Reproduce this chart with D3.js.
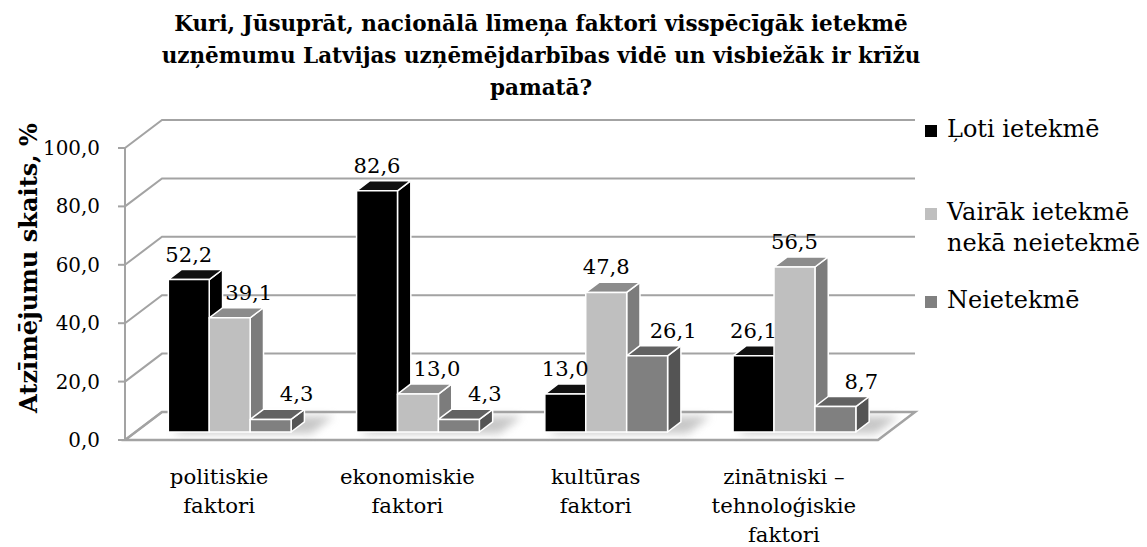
<!DOCTYPE html>
<html>
<head>
<meta charset="utf-8">
<script src="https://cdn.jsdelivr.net/npm/d3@7"></script>
<style>
  body { margin: 0; background: #fff; }
  svg { display: block; font-family: 'DejaVu Serif', serif; }
  .tick-label { font-size: 21px; fill: #000; }
  .cat-label { font-size: 22px; fill: #000; }
  .value-label { font-size: 21px; fill: #000; }
  .legend-label { font-size: 23.5px; fill: #000; }
  .title { font-size: 21.5px; font-weight: bold; fill: #000; }
  .axis-title { font-size: 23.5px; font-weight: bold; fill: #000; }
</style>
</head>
<body>
<svg width="1147" height="547"></svg>
<script>
const TITLE_LINES = [
  'Kuri, Jūsuprāt, nacionālā līmeņa faktori visspēcīgāk ietekmē',
  'uzņēmumu Latvijas uzņēmējdarbības vidē un visbiežāk ir krīžu',
  'pamatā?'
]
const Y_TITLE = 'Atzīmējumu skaits, %'

const categories = [
  ['politiskie', 'faktori'],
  ['ekonomiskie', 'faktori'],
  ['kultūras', 'faktori'],
  ['zinātniski –', 'tehnoloģiskie', 'faktori']
]
const seriesNames = [['Ļoti ietekmē'], ['Vairāk ietekmē', 'nekā neietekmē'], ['Neietekmē']]
const lotiIetekme = [52.2, 82.6, 13.0, 26.1]
const vairakIetekme = [39.1, 13.0, 47.8, 56.5]
const neietekme = [4.3, 4.3, 26.1, 8.7]
const yTicks = [0, 20, 40, 60, 80, 100]

const M = {
  left: 125, right: 878, top: 148, bottom: 440,
  depthX: 37, depthY: -28,      // offset of the back wall
  barZ0: 0.286, barZ1: 0.646    // bar front / back depth
}

// front, top, side colours per series
const FACES = [
  { front: '#000000', top: '#111111', side: '#000000' },
  { front: '#bfbfbf', top: '#8c8c8c', side: '#7c7c7c' },
  { front: '#808080', top: '#626262', side: '#545454' }
]
const GRID = '#a3a3a3'

const seriesValues = [lotiIetekme, vairakIetekme, neietekme]
const fmt = v => d3.format('.1f')(v).replace('.', ',')
const svg = d3.select('svg')

// the original used Cambria; size the substitute font so sample strings take the same width
function fitFont(cls, sample, targetWidth) {
  const t = svg.append('text').attr('class', cls).text(sample)
  const w = t.node().getComputedTextLength()
  const size = parseFloat(getComputedStyle(t.node()).fontSize)
  t.remove()
  svg.selectAll('.' + cls).style('font-size', (size * targetWidth / w) + 'px')
}

const x = d3.scaleBand()
  .domain(d3.range(categories.length))
  .range([M.left, M.right])

const xInner = d3.scaleBand()
  .domain(d3.range(seriesValues.length))
  .range([0, x.bandwidth()])
  .paddingOuter(0.8)

const y = d3.scaleLinear()
  .domain([0, 100])
  .range([M.bottom, M.top])

// projection of a point (sx on the front plane, value, depth z in 0..1)
function proj(sx, v, z) {
  return [sx + z * M.depthX, y(v) + z * M.depthY]
}
function poly(pts) { return pts.map(p => p.join(',')).join(' ') }

const defs = svg.append('defs')
defs.append('filter').attr('id', 'blur')
  .attr('x', '-50%').attr('y', '-50%').attr('width', '200%').attr('height', '200%')
  .append('feGaussianBlur').attr('stdDeviation', 4)

// floor
svg.append('polygon')
  .attr('points', poly([proj(M.left, 0, 0), proj(M.right, 0, 0), proj(M.right, 0, 1), proj(M.left, 0, 1)]))
  .attr('fill', '#fff')
  .attr('stroke', GRID)
  .attr('stroke-width', 2.5)

// gridlines: side wall diagonal + back wall
svg.append('g').selectAll('path')
  .data(yTicks)
  .enter()
  .append('path')
  .attr('d', v => {
    const a = proj(M.left, v, 0), b = proj(M.left, v, 1), c = proj(M.right, v, 1)
    return `M${a}L${b}L${c}`
  })
  .attr('fill', 'none')
  .attr('stroke', GRID)
  .attr('stroke-width', 2)

// y axis
svg.append('line')
  .attr('x1', M.left).attr('x2', M.left)
  .attr('y1', y(100)).attr('y2', y(0))
  .attr('stroke', GRID).attr('stroke-width', 2)

svg.append('g').selectAll('line')
  .data(yTicks)
  .enter()
  .append('line')
  .attr('x1', M.left - 7).attr('x2', M.left)
  .attr('y1', d => y(d)).attr('y2', d => y(d))
  .attr('stroke', GRID).attr('stroke-width', 2)

svg.append('g').selectAll('text')
  .data(yTicks)
  .enter()
  .append('text')
  .attr('class', 'tick-label')
  .attr('x', M.left - 25)
  .attr('y', d => y(d))
  .attr('dy', '0.35em')
  .attr('text-anchor', 'end')
  .text(fmt)

// floor shadows under the bar groups
svg.append('g').selectAll('polygon')
  .data(categories)
  .enter()
  .append('polygon')
  .attr('points', (d, i) => {
    const l = x(i) + xInner(0) + 6
    const r = x(i) + xInner(2) + xInner.bandwidth() + 22
    return poly([proj(l, 0, M.barZ0 - 0.05), proj(r, 0, M.barZ0 - 0.05), proj(r, 0, M.barZ1 + 0.2), proj(l, 0, M.barZ1 + 0.2)])
  })
  .attr('fill', '#9a9a9a')
  .attr('opacity', 0.55)
  .attr('filter', 'url(#blur)')

// bars, drawn left to right so that each front face hides the previous side face
const bars = []
categories.forEach((c, i) => {
  seriesValues.forEach((vals, s) => {
    bars.push({ cat: i, s, v: vals[i] })
  })
})

const barG = svg.append('g')
bars.forEach(b => {
  const x0 = x(b.cat) + xInner(b.s)
  const x1 = x0 + xInner.bandwidth()
  const z0 = M.barZ0, z1 = M.barZ1
  const g = barG.append('g')
  g.append('polygon')
    .attr('points', poly([proj(x1, 0, z0), proj(x1, 0, z1), proj(x1, b.v, z1), proj(x1, b.v, z0)]))
    .attr('fill', FACES[b.s].side)
  g.append('polygon')
    .attr('points', poly([proj(x0, b.v, z0), proj(x1, b.v, z0), proj(x1, b.v, z1), proj(x0, b.v, z1)]))
    .attr('fill', FACES[b.s].top)
  g.append('polygon')
    .attr('points', poly([proj(x0, 0, z0), proj(x1, 0, z0), proj(x1, b.v, z0), proj(x0, b.v, z0)]))
    .attr('fill', FACES[b.s].front)
  g.selectAll('polygon')
    .attr('stroke', '#fff')
    .attr('stroke-width', 1.5)
    .attr('stroke-linejoin', 'round')
})

// value labels
svg.append('g').selectAll('text')
  .data(bars)
  .enter()
  .append('text')
  .attr('class', 'value-label')
  .attr('text-anchor', 'middle')
  .attr('x', b => {
    let shift = 0
    if (b.s === 2) shift = 26
    if (b.s === 1 && seriesValues[0][b.cat] > b.v) shift = 19
    return proj(x(b.cat) + xInner(b.s) + xInner.bandwidth() / 2, b.v, M.barZ0)[0] + shift
  })
  .attr('y', b => proj(0, b.v, M.barZ0)[1] - 18)
  .text(b => fmt(b.v))

// category labels
svg.append('g').selectAll('text')
  .data(categories)
  .enter()
  .append('text')
  .attr('class', 'cat-label')
  .attr('text-anchor', 'middle')
  .attr('transform', (d, i) => `translate(${x(i) + x.bandwidth() / 2}, 484)`)
  .selectAll('tspan')
  .data(d => d)
  .enter()
  .append('tspan')
  .attr('x', 0)
  .attr('y', (d, j) => j * 29)
  .text(d => d)

// legend
const legendRows = [137, 220, 308]
const legend = svg.append('g').attr('transform', 'translate(925, 0)')
seriesNames.forEach((lines, s) => {
  legend.append('rect')
    .attr('x', 0).attr('y', legendRows[s] - 12)
    .attr('width', 12).attr('height', 12)
    .attr('fill', FACES[s].front)
  const t = legend.append('text').attr('class', 'legend-label')
  lines.forEach((line, j) => {
    t.append('tspan').attr('x', 22).attr('y', legendRows[s] + j * 31).text(line)
  })
})

// title
const title = svg.append('text').attr('class', 'title').attr('text-anchor', 'middle')
TITLE_LINES.forEach((line, j) => {
  title.append('tspan').attr('x', 541).attr('y', 31 + j * 32).text(line)
})

svg.append('text')
  .attr('class', 'axis-title')
  .attr('text-anchor', 'middle')
  .attr('transform', 'translate(37, 268) rotate(-90)')
  .text(Y_TITLE)

fitFont('tick-label', '100,0', 57)
fitFont('value-label', '52,2', 47)
fitFont('cat-label', 'ekonomiskie', 135)
fitFont('legend-label', 'nekā neietekmē', 193)
fitFont('title', TITLE_LINES[0], 734)
fitFont('axis-title', Y_TITLE, 290)
</script>
</body>
</html>
